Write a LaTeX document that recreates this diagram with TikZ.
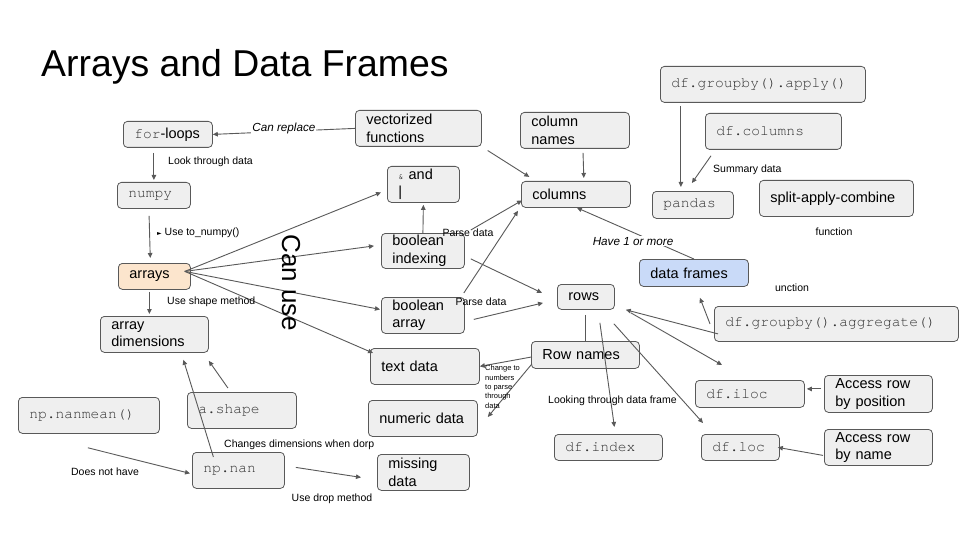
\documentclass[tikz,border=0pt]{standalone}
\usepackage{fontspec}
\setmainfont{Liberation Sans}
\setmonofont{TeX Gyre Cursor}
\newfontfamily\symfont{DejaVu Sans}
\usetikzlibrary{arrows.meta}

\definecolor{linegray}{HTML}{595959}
\definecolor{boxgray}{HTML}{EFEFEF}
\definecolor{peach}{HTML}{FCE5CD}
\definecolor{paleblue}{HTML}{C9DAF8}

\newcommand{\boxfont}{\fontsize{14.5}{17.5}\selectfont}
\newcommand{\lblfont}{\fontsize{10.5}{12.5}\selectfont}

\tikzset{
  box/.style 2 args={draw=linegray, fill=boxgray, line width=0.8pt, rounded corners=4pt,
    anchor=north west, minimum width=#1pt, minimum height=#2pt, text width=#1pt-22pt,
    inner xsep=11pt, inner ysep=1pt, align=left, font=\boxfont},
  mono/.style={font=\fontsize{14.6}{17.5}\selectfont\ttfamily, text=black!80},
  arr/.style={draw=linegray, line width=0.9pt, -{Triangle[length=5pt,width=4.5pt]}},
  link/.style={draw=linegray, line width=0.9pt},
  lbl/.style={font=\lblfont, inner sep=1pt},
  ilbl/.style={font=\fontsize{11.7}{14}\selectfont\itshape, inner sep=1pt},
}

\begin{document}
\begin{tikzpicture}[x=1pt, y=-1pt]
  \useasboundingbox (0,0) rectangle (960,540);
  \fill[white] (0,0) rectangle (960,540);

  \node[font=\fontsize{37.4}{44}\selectfont, anchor=base west, inner sep=0pt] (title) at (41,77) {Arrays and Data Frames};

  % boxes
  \node[box={89}{26}] (forloops) at (123,121) {{\ttfamily\color{black!80}for}-loops};
  \node[box={126}{36}] (vecfun) at (355,110) {vectorized\\functions};
  \node[box={109}{36}] (colnames) at (520,112) {column\\names};
  \node[box={205}{36}, mono] (applyfn) at (660,66) {df.groupby().apply()};
  \node[box={136}{36}, mono] (dfcols) at (705,113) {df.columns};
  \node[box={81}{27}, mono] (pandas) at (652,191) {pandas};
  \node[box={154}{36}] (sac) at (759,180) {split-apply-combine};
  \node[box={73}{26}, mono] (numpy) at (117,182) {numpy};
  \node[box={72}{36}] (andor) at (387,166) {{\ttfamily\fontsize{9}{10}\selectfont\&} and\\|};
  \node[box={109}{26}] (columns) at (521,181) {columns};
  \node[box={72}{26}, fill=peach] (arrays) at (118,263) {arrays};
  \node[box={83}{35}] (boolidx) at (381,233) {boolean\\indexing};
  \node[box={83}{36}] (boolarr) at (381,297) {boolean\\array};
  \node[box={57}{25}] (rows) at (557,284) {rows};
  \node[box={109}{27}, fill=paleblue] (dframes) at (639,259) {data frames};
  \node[box={244}{35}, mono] (aggfn) at (714,306) {df.groupby().aggregate()};
  \node[box={108}{36}] (arrdim) at (100,316) {array\\dimensions};
  \node[box={109}{36}] (textdata) at (370,348) {text data};
  \node[box={108}{27}] (rownames) at (531,341) {Row names};
  \node[box={109}{27}, mono] (iloc) at (695,380) {df.iloc};
  \node[box={108}{37}] (bypos) at (824,375) {Access row\\by position};
  \node[box={141}{36}, mono] (nanmean) at (18,397) {np.nanmean()};
  \node[box={109}{36}, mono] (ashape) at (187,392) {a.shape};
  \node[box={109}{36}] (numdata) at (368,400) {numeric data};
  \node[box={108}{26}, mono] (dfindex) at (554,434) {df.index};
  \node[box={78}{26}, mono] (dfloc) at (701,434) {df.loc};
  \node[box={108}{36}] (byname) at (824,429) {Access row\\by name};
  \node[box={92}{36}, mono] (npnan) at (192,452) {np.nan};
  \node[box={92}{36}] (missing) at (377,454) {missing\\data};

  % connectors
  \draw[arr] (vecfun.west) -- node[ilbl, fill=white, shift={(0,-3)}] (canrep) {Can replace} (forloops.east);
  \draw[arr, shorten <=5pt, shorten >=2pt] (numpy.north |- forloops.south) -- (numpy.north);
  \draw[arr, shorten <=7pt, shorten >=5pt] ([xshift=-5pt]numpy.south) -- ([xshift=-4pt]arrays.north);

  \coordinate (fan) at ([shift={(-6,-5)}]arrays.east);
  \draw[arr] (fan) -- ([shift={(-6,8)}]andor.west);
  \draw[arr] (fan) -- ([shift={(-7,-5)}]boolidx.west);
  \draw[arr] (fan) -- ([shift={(-1,-6)}]boolarr.west);
  \draw[arr] (fan) -- ([shift={(3,5)}]textdata.north west);
  \draw[arr, shorten <=2pt, shorten >=2pt] ([xshift=-5pt]arrays.south) -- ([xshift=-5pt]arrays.south |- arrdim.north);

  \draw[arr, shorten <=7pt, shorten >=2pt] (vecfun.south east) -- ([shift={(10,-3)}]columns.north west);
  \draw[arr, shorten <=4pt, shorten >=3pt] ([xshift=8pt]colnames.south) -- ([xshift=8pt]columns.north);
  \draw[arr, shorten >=2pt] (boolidx.north) -- (andor.south);
  \draw[arr] ([shift={(6,-3)}]boolidx.north east) -- ([shift={(1,6)}]columns.west);
  \draw[arr] ([shift={(6,8)}]boolidx.east) -- ([shift={(-15,-4)}]rows.west);
  \draw[arr] ([shift={(-1,-4)}]boolarr.north east) -- ([shift={(-3,3)}]columns.south west);
  \draw[arr] ([shift={(9,4)}]boolarr.east) -- ([shift={(-14,6)}]rows.west);

  \draw[arr] (dframes.north) -- node[ilbl, fill=white, pos=.52, shift={(0,9)}] (havelbl) {Have 1 or more} ([xshift=1pt]columns.south);
  \draw[arr, shorten <=3pt, shorten >=4pt] ([xshift=-12pt]pandas.north |- applyfn.south) -- ([xshift=-12pt]pandas.north);
  \draw[arr] ([shift={(6,6)}]dfcols.south west) -- ([shift={(-1,-8)}]pandas.north);
  \draw[arr] ([xshift=-4pt]aggfn.west) -- ([shift={(6,11)}]dframes.south);
  \draw[arr] ([shift={(4,10)}]aggfn.west) -- ([shift={(11,0)}]rows.south east);

  \draw[arr] ([shift={(16,3)}]rows.south east) -- ([shift={(27,-15)}]iloc.north west);
  \draw[link, shorten <=5pt] (rows.south) -- (rows.south |- rownames.north);
  \draw[arr] ([shift={(14,13)}]rows.south) -- ([shift={(6,-7)}]dfindex.north);
  \draw[arr] ([shift={(28,14)}]rows.south) -- ([shift={(2,-11)}]dfloc.north west);
  \draw[arr, shorten <=3pt, shorten >=2pt] ([yshift=5pt]bypos.west) -- ([yshift=5pt]iloc.east);
  \draw[arr] ([shift={(-1,8)}]byname.west) -- ([xshift=-2pt]dfloc.east);
  \draw[arr] ([shift={(1,2)}]rownames.west) -- (textdata.east);
  \draw[arr] ([shift={(1,-5)}]rownames.south west) -- ([shift={(10,17)}]numdata.north east);

  \draw[arr] ([shift={(-14,-4)}]ashape.north) -- ([shift={(0,8)}]arrdim.south east);
  \draw[arr] ([shift={(-25,5)}]npnan.north) -- ([shift={(29,7)}]arrdim.south);
  \draw[arr] ([shift={(-1,14)}]nanmean.south) -- ([shift={(-2,3)}]npnan.west);
  \draw[arr] ([shift={(11,-3)}]npnan.east) -- ([shift={(-16,5)}]missing.west);

  % labels
  \node[lbl, anchor=west] (looklbl) at (167,162) {Look through data};
  \node[lbl, anchor=west] (numpylbl) at (156,233) {{\symfont\fontsize{6}{7}\selectfont ►} Use to\_numpy()};
  \node[lbl, anchor=west] (shapelbl) at (166,302) {Use shape method};
  \node[lbl] (parse1) at (468,233) {Parse data};
  \node[lbl] (parse2) at (481,302) {Parse data};
  \node[lbl, anchor=west] (sumlbl) at (712,170) {Summary data};
  \node[lbl] (funclbl) at (834,232) {function};
  \node[lbl] (unclbl) at (792,288) {unction};
  \node[lbl, anchor=west] (lookdf) at (547,401) {Looking through data frame};
  \node[font=\fontsize{7.5}{9.4}\selectfont, align=left, anchor=north west, inner sep=0pt] (chglbl) at (485,365) {Change to\\numbers\\to parse\\through\\data};
  \node[lbl, anchor=west] (dimlbl) at (223,445) {Changes dimensions when dorp};
  \node[lbl] (nothave) at (105,472) {Does not have};
  \node[lbl] (droplbl) at (332,499) {Use drop method};
  \node[font=\fontsize{26}{30}\selectfont, rotate=-90] (canuse) at (291,283) {Can use};
\end{tikzpicture}
\end{document}
